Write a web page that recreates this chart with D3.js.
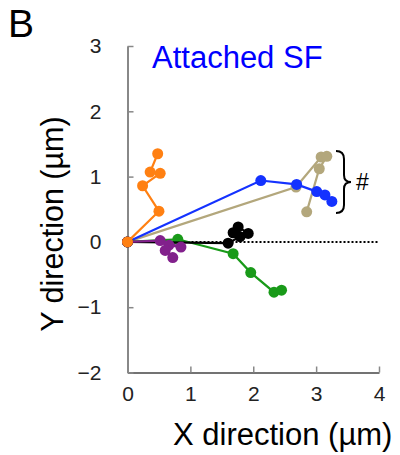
<!DOCTYPE html>
<html>
<head>
<meta charset="utf-8">
<script src="https://cdn.jsdelivr.net/npm/d3@7"></script>
<style>
    body { margin: 0; background: #fff; }
    svg { font-family: "Liberation Sans", Arial, sans-serif; }
</style>
</head>
<body>
<svg id="chart" width="400" height="455"></svg>
<script>
// tracks, each starts at the origin (x, y in um)
const orangeTrack = [[0, 0], [0.5, 0.47], [0.24, 0.86], [0.52, 1.05], [0.36, 1.07], [0.48, 1.35]];
const purpleTrack = [[0, 0], [0.52, 0.02], [0.85, -0.08], [0.66, -0.05], [0.6, -0.13], [0.72, -0.24]];
const greenTrack = [[0, 0], [0.8, 0.04], [1.68, -0.18], [1.96, -0.47], [2.33, -0.77], [2.45, -0.74]];
const blackTrack = [[0, 0], [1.6, -0.02], [1.79, 0.08], [1.68, 0.14], [1.76, 0.23], [1.92, 0.13]];
const blueTrack = [[0, 0], [2.12, 0.94], [2.69, 0.88], [3.01, 0.77], [3.14, 0.72], [3.25, 0.62]];
const tanTrack = [[0, 0], [2.68, 0.84], [3.08, 1.3], [3.17, 1.31], [3.05, 1.12], [2.85, 0.46]];

const tracks = [
    {pts: tanTrack, color: '#b3a77c'},
    {pts: blueTrack, color: '#1432ff'},
    {pts: greenTrack, color: '#199a19'},
    {pts: blackTrack, color: '#000000'},
    {pts: purpleTrack, color: '#82208c'},
    {pts: orangeTrack, color: '#ff8012'}
];

const xTicks = [0, 1, 2, 3, 4];
const yTicks = [-2, -1, 0, 1, 2, 3];

const svg = d3.select('#chart');
const x = d3.scaleLinear().domain([0, 4]).range([127.5, 379]);
const y = d3.scaleLinear().domain([-2, 3]).range([372.5, 46]);

// axes
const xAxis = svg.append('g')
    .attr('transform', 'translate(0,' + y(-2) + ')')
    .call(d3.axisBottom(x).tickValues(xTicks).tickSizeInner(-6).tickSizeOuter(0).tickPadding(14).tickFormat(d3.format('d')));
const yAxis = svg.append('g')
    .attr('transform', 'translate(' + x(0) + ',0)')
    .call(d3.axisLeft(y).tickValues(yTicks).tickSizeInner(-6).tickSizeOuter(0).tickPadding(26).tickFormat(d3.format('d')));

xAxis.select('.domain').attr('stroke', '#444').attr('stroke-width', 1.5);
yAxis.select('.domain').attr('stroke', '#888').attr('stroke-width', 2);
xAxis.selectAll('.tick line').attr('stroke', '#888').attr('stroke-width', 1.5);
yAxis.selectAll('.tick line').attr('stroke', '#888').attr('stroke-width', 1.5);
xAxis.selectAll('text').attr('font-size', 21).attr('fill', '#222').attr('font-family', 'Liberation Sans, Arial');
yAxis.selectAll('text').attr('font-size', 21).attr('fill', '#222').attr('font-family', 'Liberation Sans, Arial');

// zero line
svg.append('line')
    .attr('x1', x(0)).attr('x2', x(4))
    .attr('y1', y(0)).attr('y2', y(0))
    .attr('stroke', '#000').attr('stroke-width', 2)
    .attr('stroke-dasharray', '2,2');

// tracks
const line = d3.line().x(d => x(d[0])).y(d => y(d[1]));
tracks.forEach(t => {
    const g = svg.append('g');
    g.append('path')
        .attr('d', line(t.pts))
        .attr('fill', 'none')
        .attr('stroke', t.color)
        .attr('stroke-width', 2.2);
    g.selectAll('circle').data(t.pts).enter().append('circle')
        .attr('cx', d => x(d[0]))
        .attr('cy', d => y(d[1]))
        .attr('r', 5.5)
        .attr('fill', t.color);
});

// brace + #
const bx = 336, bt = 151, bb = 213, bm = (bt + bb) / 2;
svg.append('path')
    .attr('d', `M${bx},${bt} Q${bx + 8},${bt} ${bx + 8},${bt + 8} L${bx + 8},${bm - 7} Q${bx + 8},${bm} ${bx + 15},${bm} Q${bx + 8},${bm} ${bx + 8},${bm + 7} L${bx + 8},${bb - 8} Q${bx + 8},${bb} ${bx},${bb}`)
    .attr('fill', 'none').attr('stroke', '#000').attr('stroke-width', 2);
svg.append('text').attr('x', 356).attr('y', 190).attr('font-size', 23).text('#');

// labels
svg.append('text').attr('x', 152).attr('y', 68).attr('font-size', 31).attr('fill', '#0000ff').text('Attached SF');
svg.append('text').attr('x', 8).attr('y', 37).attr('font-size', 39).text('B');
svg.append('text').attr('x', 173).attr('y', 445).attr('font-size', 31).text('X direction (\u00b5m)');
svg.append('text')
    .attr('transform', 'translate(63,224) rotate(-90)')
    .attr('text-anchor', 'middle')
    .attr('font-size', 30.5)
    .text('Y direction (\u00b5m)');
</script>
</body>
</html>
